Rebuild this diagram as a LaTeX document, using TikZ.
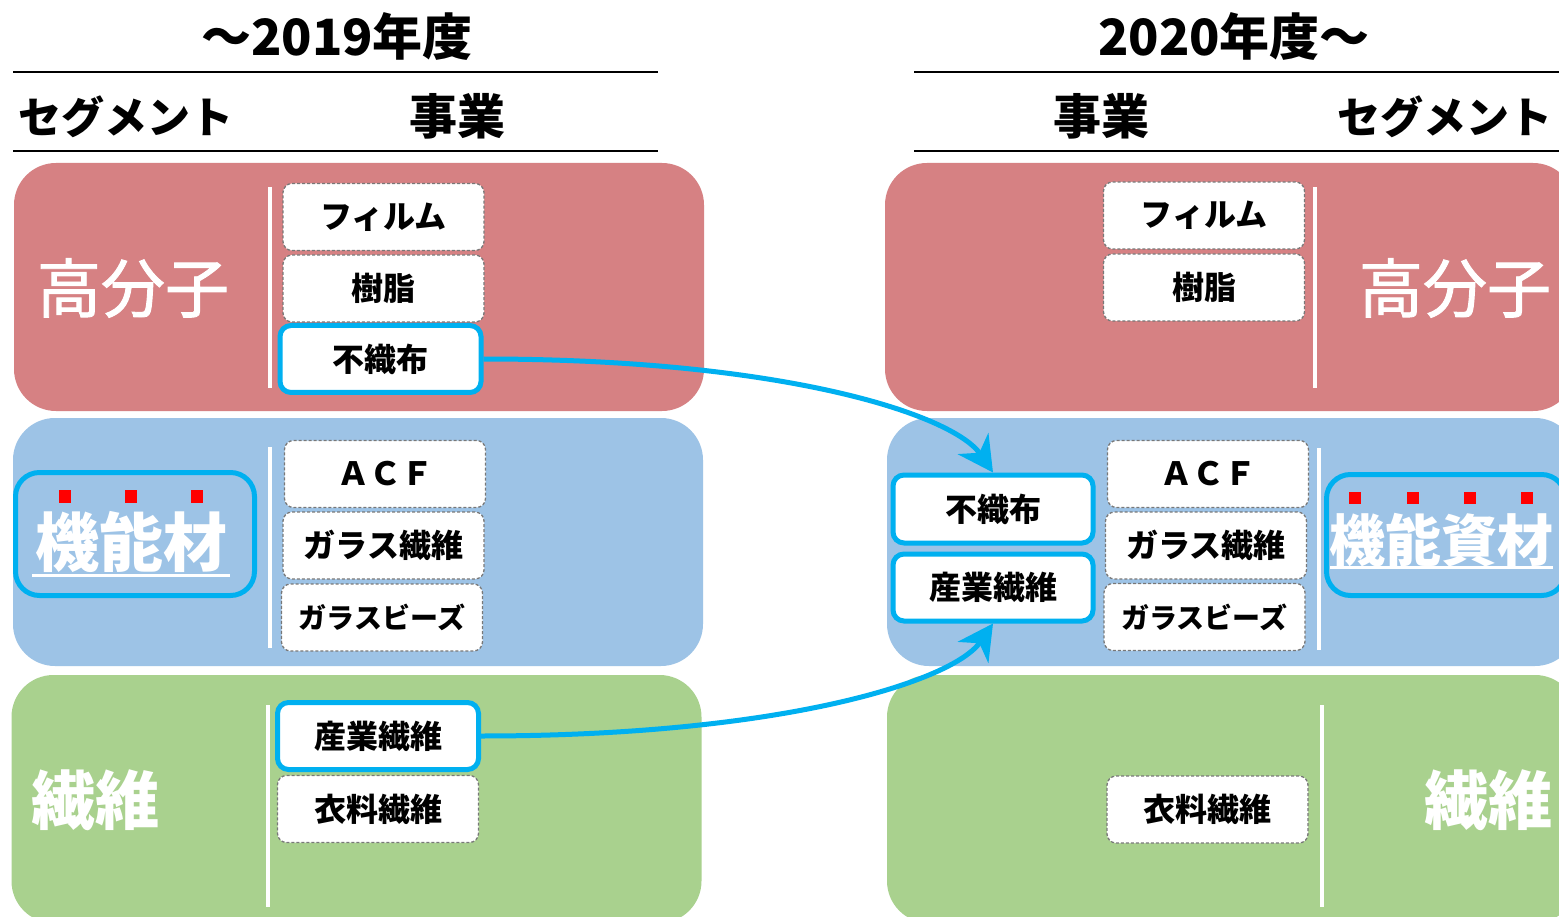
\documentclass[tikz,border=0pt]{standalone}
\usepackage{fontspec}
\setmainfont{Noto Sans CJK JP}
\newfontfamily\jpsemi[FakeBold=1.4]{Noto Sans CJK JP}
\usetikzlibrary{arrows.meta}
\definecolor{segred}{RGB}{214,129,131}
\definecolor{segblue}{RGB}{157,195,230}
\definecolor{seggreen}{RGB}{169,209,142}
\definecolor{accent}{RGB}{0,176,240}
\definecolor{dashgray}{RGB}{120,120,120}
\definecolor{marker}{RGB}{255,0,0}
\newcommand{\fsz}[1]{\fontsize{#1}{#1}\selectfont}
\begin{document}
\begin{tikzpicture}[x=1pt,y=-1pt,
  seg/.style={rounded corners=42, minimum width=690, minimum height=248, inner sep=0},
  bizbox/.style={rounded corners=9, fill=white, draw=dashgray, dash pattern=on 3pt off 2pt, line width=1.3, minimum width=201, minimum height=67, inner sep=0, font=\bfseries\fsz{32}},
  movebox/.style={bizbox, draw=accent, solid, line width=5, rounded corners=11},
  seglabel/.style={text=white, inner sep=0, font=\bfseries\fsz{64}},
  header/.style={inner sep=0, font=\bfseries\fsz{46}},
  rule/.style={line width=2},
  divider/.style={draw=white, line width=4},
  segframe/.style={draw=accent, line width=5, rounded corners=24, inner sep=0},
  dot/.style={fill=marker, minimum width=12, minimum height=13, inner sep=0},
  flow/.style={draw=accent, line width=5, -{Stealth[length=35pt,width=37pt,inset=11pt]}}
]
\clip (0,0) rectangle (1559,917);
\fill[white] (0,0) rectangle (1559,917);

% titles and header rules
\node[header, font=\bfseries\fsz{50}] (t1) at (337,37) {～2019年度};
\node[header, font=\bfseries\fsz{50}] (t2) at (1234,37) {2020年度～};
\draw[rule] (13,72) -- (658,72);
\draw[rule] (13,151) -- (658,151);
\draw[rule] (914,72) -- (1559,72);
\draw[rule] (914,151) -- (1559,151);
\node[header, font=\bfseries\fsz{43}] (h1) at (126,117) {セグメント};
\node[header, font=\bfseries\fsz{48}] (h2) at (457,116) {事業};
\node[header, font=\bfseries\fsz{48}] (h3) at (1101,116) {事業};
\node[header, font=\bfseries\fsz{43}] (h4) at (1445,117) {セグメント};

% segment backgrounds
\node[seg, fill=segred] (sLr) at (359,287) {};
\node[seg, fill=segblue] (sLb) at (358,542) {};
\node[seg, fill=seggreen] (sLg) at (356.5,799) {};
\node[seg, fill=segred] (sRr) at (1230,287) {};
\node[seg, fill=segblue] (sRb) at (1232,542) {};
\node[seg, fill=seggreen] (sRg) at (1232,799) {};

% dividers
\draw[divider] (270,187) -- (270,388);
\draw[divider] (270,447) -- (270,648);
\draw[divider] (268,705) -- (268,907);
\draw[divider] (1315,187) -- (1315,388);
\draw[divider] (1319,448) -- (1319,650);
\draw[divider] (1322,705) -- (1322,907);

% segment labels
\node[seglabel, font=\jpsemi\fsz{64}] (polyL) at (133,288) {高分子};
\node[seglabel, font=\jpsemi\fsz{64}] (polyR) at (1455,288) {高分子};
\node[segframe, minimum width=239, minimum height=123] (fnLf) at (135,534) {};
\node[seglabel] (funcL) at (131,542) {機能材};
\draw[white, line width=3] (32,575) -- (230,575);
\node[dot] (dL1) at (65,496) {};
\node[dot] (dL2) at (131,496) {};
\node[dot] (dL3) at (197,496) {};
\node[segframe, minimum width=239, minimum height=121] (fnRf) at (1446,535) {};
\node[seglabel, font=\bfseries\fsz{56}] (funcR) at (1441,540) {機能資材};
\draw[white, line width=3] (1330,567) -- (1553,567);
\node[dot, minimum height=12] (dR1) at (1355,498) {};
\node[dot, minimum height=12] (dR2) at (1413,498) {};
\node[dot, minimum height=12] (dR3) at (1470,498) {};
\node[dot, minimum height=12] (dR4) at (1527,498) {};
\node[seglabel] (fibL) at (95,800) {繊維};
\node[seglabel] (fibR) at (1488,800) {繊維};

% business boxes, left
\node[bizbox] (filmL) at (383.5,217) {フィルム};
\node[bizbox] (resinL) at (383.5,288.5) {樹脂};
\node[movebox] (nfL) at (380.5,359) {不織布};
\node[bizbox] (acfL) at (385,474) {ＡＣＦ};
\node[bizbox] (gfL) at (383.5,545.5) {ガラス繊維};
\node[bizbox, font=\bfseries\fsz{28}] (gbL) at (382,617.5) {ガラスビーズ};
\node[movebox] (ifL) at (378,736) {産業繊維};
\node[bizbox] (cfL) at (378,809) {衣料繊維};

% business boxes, right
\node[bizbox] (filmR) at (1204,215.5) {フィルム};
\node[bizbox] (resinR) at (1204,287.5) {樹脂};
\node[bizbox] (acfR) at (1208,474) {ＡＣＦ};
\node[bizbox] (gfR) at (1206,545.5) {ガラス繊維};
\node[bizbox, font=\bfseries\fsz{28}] (gbR) at (1204.5,617) {ガラスビーズ};
\node[movebox, minimum width=200, minimum height=68] (nfR) at (993,509) {不織布};
\node[movebox, minimum width=200, minimum height=67] (ifR) at (993,587.5) {産業繊維};
\node[bizbox] (cfR) at (1207.5,809.5) {衣料繊維};

% flows
\draw[flow] (nfL.east) .. controls +(300,0) and +(-40,-58) .. (nfR.north);
\draw[flow] (ifL.east) .. controls +(300,0) and +(-40,58) .. (ifR.south);
\end{tikzpicture}
\end{document}
